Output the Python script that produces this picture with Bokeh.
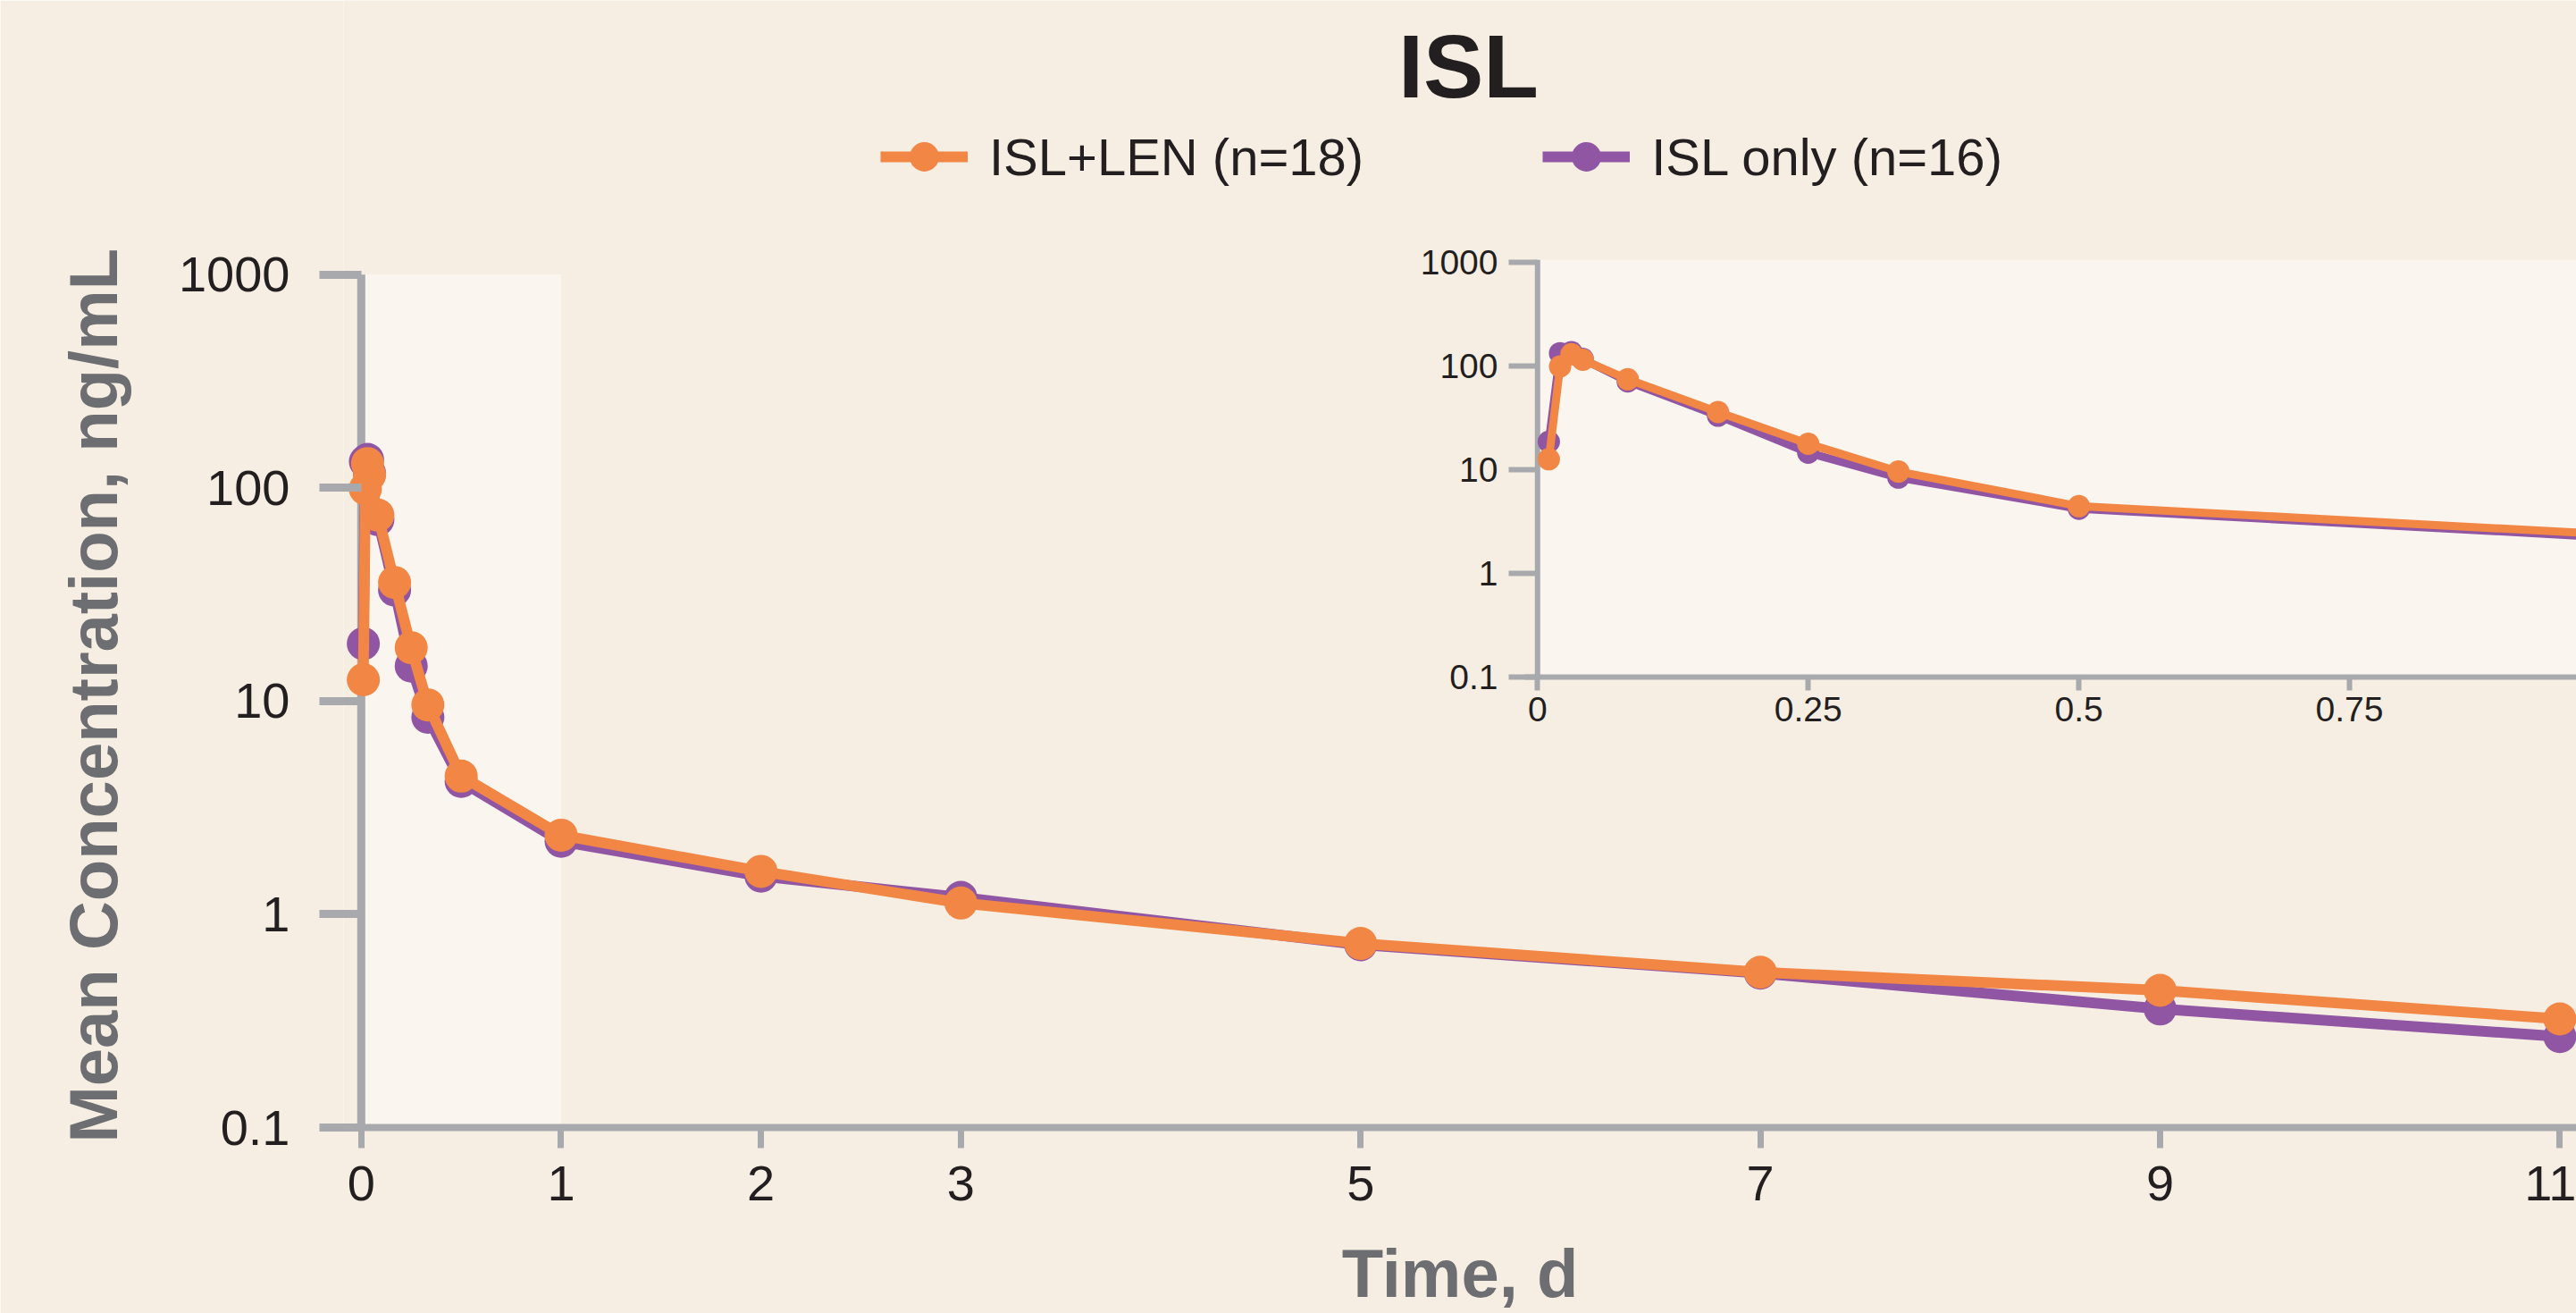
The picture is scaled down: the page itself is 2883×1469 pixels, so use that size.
from bokeh.plotting import figure
from bokeh.models import (Range1d, FixedTicker, Span, BoxAnnotation, Legend,
                          LegendItem, GridBox, Label, Title)
from bokeh.embed import file_html
from bokeh.resources import INLINE

# ---------------- data ----------------
time_d = [0.0104, 0.0208, 0.0313, 0.0417, 0.0833, 0.1667, 0.25, 0.3333, 0.5,
          1, 2, 3, 5, 7, 9, 11]
isl_len = [12.6, 99, 130, 115, 74.5, 36, 17.8, 9.6, 4.45,
           2.35, 1.59, 1.13, 0.73, 0.535, 0.44, 0.323]
isl_only = [18.6, 133, 136, 117, 71, 33.2, 14.6, 8.4, 4.2,
            2.2, 1.51, 1.2, 0.72, 0.53, 0.36, 0.267]
series_labels = ["ISL+LEN (n=18)", "ISL only (n=16)"]
chart_title = "ISL"
x_title = "Time, d"
y_title = "Mean Concentration, ng/mL"

main_x_ticks = [0, 1, 2, 3, 5, 7, 9, 11]
main_x_labels = ["0", "1", "2", "3", "5", "7", "9", "11"]
y_ticks = [0.1, 1, 10, 100, 1000]
y_labels = ["0.1", "1", "10", "100", "1000"]
inset_x_ticks = [0, 0.25, 0.5, 0.75]
inset_x_labels = ["0", "0.25", "0.5", "0.75"]
shade_start, shade_end = 0, 1

# ---------------- styles ----------------
CREAM = "#F6EEE2"
LIGHT = "#FAF6EF"
ORANGE = "#F28644"
PURPLE = "#9156A3"
AXIS = "#A7A9AC"
TEXT = "#231F20"
TITLE_GRAY = "#6D6E71"
FONT = "Liberation Sans"

W, H = 2883, 1469

p = figure(width=W, height=H, output_backend="svg", toolbar_location=None,
           y_axis_type="log",
           x_range=Range1d(-0.0885, 11.083), y_range=Range1d(0.1, 19326),
           min_border_left=384, min_border_right=0, min_border_top=0,
           min_border_bottom=207)
p.background_fill_color = CREAM
p.border_fill_color = CREAM
p.outline_line_color = None
p.xgrid.visible = False
p.ygrid.visible = False

# shaded first day and y-axis rule (drawn beneath the data)
p.quad(left=[shade_start], right=[shade_end], bottom=[min(y_ticks)],
       top=[max(y_ticks)], fill_color=LIGHT, line_color=None, level="underlay")
p.segment(x0=[shade_start], y0=[min(y_ticks)], x1=[shade_start], y1=[max(y_ticks)],
          line_color=AXIS, line_width=9, level="underlay")

pl = p.line(time_d, isl_only, line_color=PURPLE, line_width=12)
ps = p.scatter(time_d, isl_only, size=37, fill_color=PURPLE, line_color=None)
ol = p.line(time_d, isl_len, line_color=ORANGE, line_width=12)
os_ = p.scatter(time_d, isl_len, size=37, fill_color=ORANGE, line_color=None)

xa = p.xaxis[0]
xa.ticker = FixedTicker(ticks=main_x_ticks)
xa.major_label_overrides = dict(zip(main_x_ticks, main_x_labels))
xa.axis_line_color = AXIS
xa.axis_line_width = 8
xa.major_tick_line_color = AXIS
xa.major_tick_line_width = 7
xa.major_tick_in = 0
xa.major_tick_out = 23
xa.minor_tick_line_color = None
xa.major_label_text_font = FONT
xa.major_label_text_font_size = "56px"
xa.major_label_text_color = TEXT
xa.major_label_standoff = 20
xa.axis_label = x_title
xa.axis_label_text_font = FONT
xa.axis_label_text_font_size = "76px"
xa.axis_label_text_font_style = "bold"
xa.axis_label_text_color = TITLE_GRAY
xa.axis_label_standoff = 36

ya = p.yaxis[0]
ya.ticker = FixedTicker(ticks=y_ticks)
ya.bounds = (min(y_ticks), max(y_ticks))
ya.major_label_overrides = dict(zip(y_ticks, y_labels))
ya.axis_line_color = None
ya.major_tick_line_color = AXIS
ya.major_tick_line_width = 9
ya.major_tick_in = 20
ya.major_tick_out = 27
ya.minor_tick_line_color = None
ya.major_label_text_font = FONT
ya.major_label_text_font_size = "56px"
ya.major_label_text_color = TEXT
ya.major_label_standoff = 33

# y-axis title in the left panel, starting just below the 0.1 level
p.add_layout(Title(text=y_title, align="left", offset=-17, standoff=100,
                   text_font=FONT, text_font_size="76px", text_font_style="bold",
                   text_color=TITLE_GRAY), "left")

# chart title
p.add_layout(Label(x=1259, y=1188, x_units="screen", y_units="screen",
                   text=chart_title, text_align="center", text_baseline="alphabetic",
                   text_font=FONT, text_font_size="101px", text_font_style="bold",
                   text_color=TEXT))

legend = Legend(items=[LegendItem(label=series_labels[0], renderers=[ol, os_]),
                       LegendItem(label=series_labels[1], renderers=[pl, ps])],
                orientation="horizontal", location=(601, 1045),
                glyph_width=98, glyph_height=82, label_standoff=24, spacing=200,
                padding=0, margin=0, border_line_color=None,
                background_fill_alpha=0,
                label_text_font=FONT, label_text_font_size="58px",
                label_text_color=TEXT)
p.add_layout(legend)

# ---------------- inset ----------------
inset = figure(width=1327, height=557, output_backend="svg", toolbar_location=None,
               y_axis_type="log",
               x_range=Range1d(-0.0118, 0.9596), y_range=Range1d(0.1, 1062),
               min_border_left=150, min_border_right=0, min_border_top=20,
               min_border_bottom=70)
inset.background_fill_color = None
inset.border_fill_color = None
inset.outline_line_color = None
inset.xgrid.visible = False
inset.ygrid.visible = False

inset.add_layout(BoxAnnotation(left=shade_start, fill_color=LIGHT, fill_alpha=1,
                               line_color=None, level="underlay"))
inset.add_layout(Span(location=shade_start, dimension="height", line_color=AXIS,
                      line_width=6, level="underlay"))

inset.line(time_d, isl_only, line_color=PURPLE, line_width=9)
inset.scatter(time_d, isl_only, size=25, fill_color=PURPLE, line_color=None)
inset.line(time_d, isl_len, line_color=ORANGE, line_width=9)
inset.scatter(time_d, isl_len, size=25, fill_color=ORANGE, line_color=None)

ixa = inset.xaxis[0]
ixa.ticker = FixedTicker(ticks=inset_x_ticks)
ixa.major_label_overrides = dict(zip(inset_x_ticks, inset_x_labels))
ixa.axis_line_color = AXIS
ixa.axis_line_width = 6
ixa.major_tick_line_color = AXIS
ixa.major_tick_line_width = 6
ixa.major_tick_in = 0
ixa.major_tick_out = 15
ixa.minor_tick_line_color = None
ixa.major_label_text_font = FONT
ixa.major_label_text_font_size = "39px"
ixa.major_label_text_color = TEXT
ixa.major_label_standoff = 7

iya = inset.yaxis[0]
iya.ticker = FixedTicker(ticks=y_ticks)
iya.major_label_overrides = dict(zip(y_ticks, y_labels))
iya.axis_line_color = None
iya.major_tick_line_color = AXIS
iya.major_tick_line_width = 6
iya.major_tick_in = 14
iya.major_tick_out = 18
iya.minor_tick_line_color = None
iya.major_label_text_font = FONT
iya.major_label_text_font_size = "39px"
iya.major_label_text_color = TEXT
iya.major_label_standoff = 12

layout = GridBox(children=[(p, 0, 0, 3, 2), (inset, 1, 1, 1, 1)],
                 cols=["1556px", "1327px"], rows=["270px", "557px", "642px"])

open("out.html", "w").write(file_html(layout, INLINE))
